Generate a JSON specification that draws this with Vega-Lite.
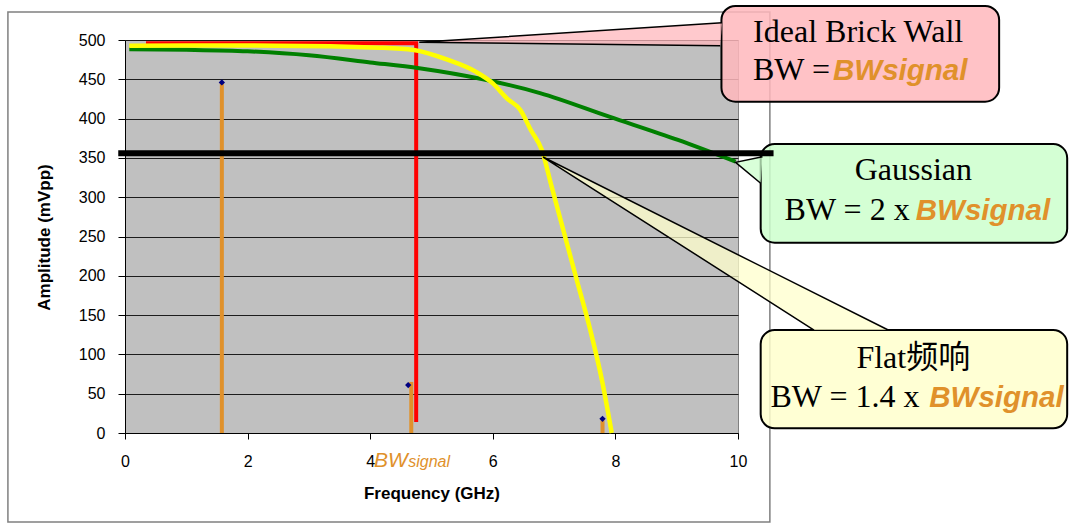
{
  "$schema": "https://vega.github.io/schema/vega-lite/v6.json",
  "autosize": {"type": "none"},
  "padding": {"left": 125, "top": 40, "right": 342, "bottom": 96},
  "width": 613,
  "height": 393,
  "background": "white",
  "config": {
    "view": {"fill": "#c0c0c0", "stroke": "#808080", "strokeWidth": 1},
    "font": "Liberation Sans"
  },
  "datasets": {
    "frame": [{"x": -1.91, "x2": 10.52, "y": -113.2, "y2": 535.6}],
    "stems": [
      {"x": 1.58, "y": 0, "y2": 446},
      {"x": 4.67, "y": 0, "y2": 65},
      {"x": 7.79, "y": 0, "y2": 16}
    ],
    "peaks": [
      {"x": 1.58, "y": 446},
      {"x": 4.62, "y": 61},
      {"x": 7.79, "y": 18}
    ],
    "brick": [
      {"i": 0, "x": 0.375, "y": 496},
      {"i": 1, "x": 4.75, "y": 496},
      {"i": 2, "x": 4.75, "y": 16.5}
    ],
    "gauss": [
      {"x": 0.07, "y": 488.2},
      {"x": 1, "y": 487.5},
      {"x": 2, "y": 485.6},
      {"x": 3, "y": 480.5},
      {"x": 4, "y": 471.5},
      {"x": 4.8, "y": 464},
      {"x": 5.84, "y": 450},
      {"x": 6.77, "y": 432.5},
      {"x": 7.9, "y": 402.4},
      {"x": 9.02, "y": 372.8},
      {"x": 9.96, "y": 345.2}
    ],
    "flat": [
      {"x": 0.07, "y": 492.8},
      {"x": 1, "y": 493},
      {"x": 2.46, "y": 492.8},
      {"x": 4.15, "y": 490.2},
      {"x": 4.71, "y": 487.3},
      {"x": 5.27, "y": 474.6},
      {"x": 5.72, "y": 459.7},
      {"x": 6.0, "y": 444.9},
      {"x": 6.23, "y": 425.8},
      {"x": 6.45, "y": 410.9},
      {"x": 6.62, "y": 385.5},
      {"x": 6.8, "y": 360},
      {"x": 6.96, "y": 313.4},
      {"x": 7.15, "y": 258.3},
      {"x": 7.37, "y": 194.7},
      {"x": 7.59, "y": 131},
      {"x": 7.78, "y": 67.4},
      {"x": 7.94, "y": 0}
    ],
    "ref": [{"x": -0.11, "x2": 10.58, "y": 356}],
    "boxes": [
      {"callout": "brick", "x": 9.73, "x2": 14.26, "y": 421.5, "y2": 543.3},
      {"callout": "gauss", "x": 10.37, "x2": 15.37, "y": 242.1, "y2": 367.7},
      {"callout": "flat", "x": 10.37, "x2": 15.37, "y": 6.0, "y2": 131.0}
    ],
    "pointers": [
      {"callout": "brick", "i": 0, "x": 9.74, "y": 522.0},
      {"callout": "brick", "i": 1, "x": 4.8, "y": 497.1},
      {"callout": "brick", "i": 2, "x": 9.71, "y": 492.7},
      {"callout": "gauss", "i": 0, "x": 10.4, "y": 351.5},
      {"callout": "gauss", "i": 1, "x": 9.96, "y": 344.4},
      {"callout": "gauss", "i": 2, "x": 10.37, "y": 317.7},
      {"callout": "flat", "i": 0, "x": 11.24, "y": 131},
      {"callout": "flat", "i": 1, "x": 6.82, "y": 351.1},
      {"callout": "flat", "i": 2, "x": 12.45, "y": 131}
    ],
    "texts": [
      {"kind": "head", "text": "Ideal Brick Wall", "x": 11.96, "y": 497.8},
      {"kind": "bw", "text": "BW =", "x": 11.5, "y": 449.1},
      {"kind": "sig", "text": "BWsignal", "x": 11.55, "y": 449.1},
      {"kind": "head", "text": "Gaussian", "x": 12.86, "y": 321.9},
      {"kind": "bw", "text": "BW = 2 x", "x": 12.8, "y": 271.0},
      {"kind": "sig", "text": "BWsignal", "x": 12.9, "y": 271.0},
      {"kind": "head", "text": "Flat频响", "x": 12.86, "y": 82.3},
      {"kind": "bw", "text": "BW = 1.4 x", "x": 12.96, "y": 33.5},
      {"kind": "sig", "text": "BWsignal", "x": 13.12, "y": 33.5}
    ],
    "axisnote": [
      {"kind": "big", "text": "BW", "x": 4.06, "y": -42.9},
      {"kind": "small", "text": "signal", "x": 4.62, "y": -42.9}
    ]
  },
  "encoding": {
    "x": {
      "field": "x",
      "type": "quantitative",
      "scale": {"domain": [0, 10], "nice": false, "zero": false},
      "axis": {
        "values": [0, 2, 4, 6, 8, 10],
        "grid": false,
        "labelFlush": false,
        "labelOverlap": false,
        "labelFontSize": 16,
        "labelColor": "black",
        "labelPadding": 14,
        "tickColor": "black",
        "tickSize": 6,
        "domainColor": "black",
        "title": "Frequency (GHz)",
        "titleFontSize": 17,
        "titleFontWeight": "bold",
        "titleColor": "black",
        "titleBaseline": "alphabetic",
        "titleY": 65
      }
    },
    "y": {
      "field": "y",
      "type": "quantitative",
      "scale": {"domain": [0, 500], "nice": false, "zero": false},
      "axis": {
        "values": [0, 50, 100, 150, 200, 250, 300, 350, 400, 450, 500],
        "grid": true,
        "gridColor": "black",
        "gridOpacity": 0.85,
        "labelFontSize": 16,
        "labelColor": "black",
        "labelPadding": 13,
        "tickColor": "black",
        "tickSize": 7,
        "domainColor": "black",
        "title": "Amplitude (mVpp)",
        "titleFontSize": 17,
        "titleFontWeight": "bold",
        "titleColor": "black",
        "titleAngle": 270,
        "titleAlign": "center",
        "titleBaseline": "middle",
        "titleX": -81,
        "titleY": 197
      }
    }
  },
  "layer": [
    {
      "data": {"name": "frame"},
      "mark": {"type": "rect", "fill": null, "stroke": "#808080", "strokeWidth": 1.5},
      "encoding": {"x2": {"field": "x2"}, "y2": {"field": "y2"}}
    },
    {
      "data": {"name": "stems"},
      "mark": {"type": "rule", "color": "#e0912b", "strokeWidth": 4},
      "encoding": {"y2": {"field": "y2"}}
    },
    {
      "data": {"name": "peaks"},
      "mark": {"type": "point", "shape": "diamond", "filled": true, "color": "#000080", "size": 40, "opacity": 1}
    },
    {
      "data": {"name": "brick"},
      "mark": {"type": "line", "color": "#ff0000", "strokeWidth": 4, "strokeCap": "square"},
      "encoding": {"order": {"field": "i"}}
    },
    {
      "data": {"name": "gauss"},
      "mark": {"type": "line", "color": "#008000", "strokeWidth": 4, "interpolate": "monotone"}
    },
    {
      "data": {"name": "flat"},
      "mark": {"type": "line", "color": "#ffff00", "strokeWidth": 4.5, "interpolate": "monotone"}
    },
    {
      "data": {"name": "boxes"},
      "mark": {"type": "rect", "cornerRadius": 14, "stroke": "black", "strokeWidth": 2, "fillOpacity": 0.85},
      "encoding": {
        "x2": {"field": "x2"},
        "y2": {"field": "y2"},
        "fill": {
          "field": "callout",
          "type": "nominal",
          "scale": {"domain": ["brick", "gauss", "flat"], "range": ["#ffb7bc", "#ccffcc", "#ffffcc"]},
          "legend": null
        }
      }
    },
    {
      "data": {"name": "pointers"},
      "mark": {"type": "line", "stroke": "black", "strokeWidth": 1.5, "fillOpacity": 0.75},
      "encoding": {
        "order": {"field": "i"},
        "fill": {
          "field": "callout",
          "type": "nominal",
          "scale": {"domain": ["brick", "gauss", "flat"], "range": ["#ffb7bc", "#ccffcc", "#ffffcc"]},
          "legend": null
        }
      }
    },
    {
      "data": {"name": "ref"},
      "mark": {"type": "rule", "color": "black", "strokeWidth": 6},
      "encoding": {"x2": {"field": "x2"}}
    },
    {
      "data": {"name": "texts"},
      "transform": [{"filter": "datum.kind == 'head'"}],
      "mark": {"type": "text", "font": "Liberation Serif, Noto Sans CJK SC", "fontSize": 32, "align": "center", "baseline": "alphabetic", "color": "black"},
      "encoding": {"text": {"field": "text", "type": "nominal"}}
    },
    {
      "data": {"name": "texts"},
      "transform": [{"filter": "datum.kind == 'bw'"}],
      "mark": {"type": "text", "font": "Liberation Serif", "fontSize": 32, "align": "right", "baseline": "alphabetic", "color": "black"},
      "encoding": {"text": {"field": "text", "type": "nominal"}}
    },
    {
      "data": {"name": "texts"},
      "transform": [{"filter": "datum.kind == 'sig'"}],
      "mark": {"type": "text", "font": "Liberation Sans", "fontSize": 29.5, "fontWeight": "bold", "fontStyle": "italic", "align": "left", "baseline": "alphabetic", "color": "#e0912b"},
      "encoding": {"text": {"field": "text", "type": "nominal"}}
    },
    {
      "data": {"name": "axisnote"},
      "transform": [{"filter": "datum.kind == 'big'"}],
      "mark": {"type": "text", "font": "Liberation Sans", "fontSize": 21, "fontStyle": "italic", "align": "left", "baseline": "alphabetic", "color": "#e0912b"},
      "encoding": {"text": {"field": "text", "type": "nominal"}}
    },
    {
      "data": {"name": "axisnote"},
      "transform": [{"filter": "datum.kind == 'small'"}],
      "mark": {"type": "text", "font": "Liberation Sans", "fontSize": 16, "fontStyle": "italic", "align": "left", "baseline": "alphabetic", "color": "#e0912b"},
      "encoding": {"text": {"field": "text", "type": "nominal"}}
    }
  ]
}
